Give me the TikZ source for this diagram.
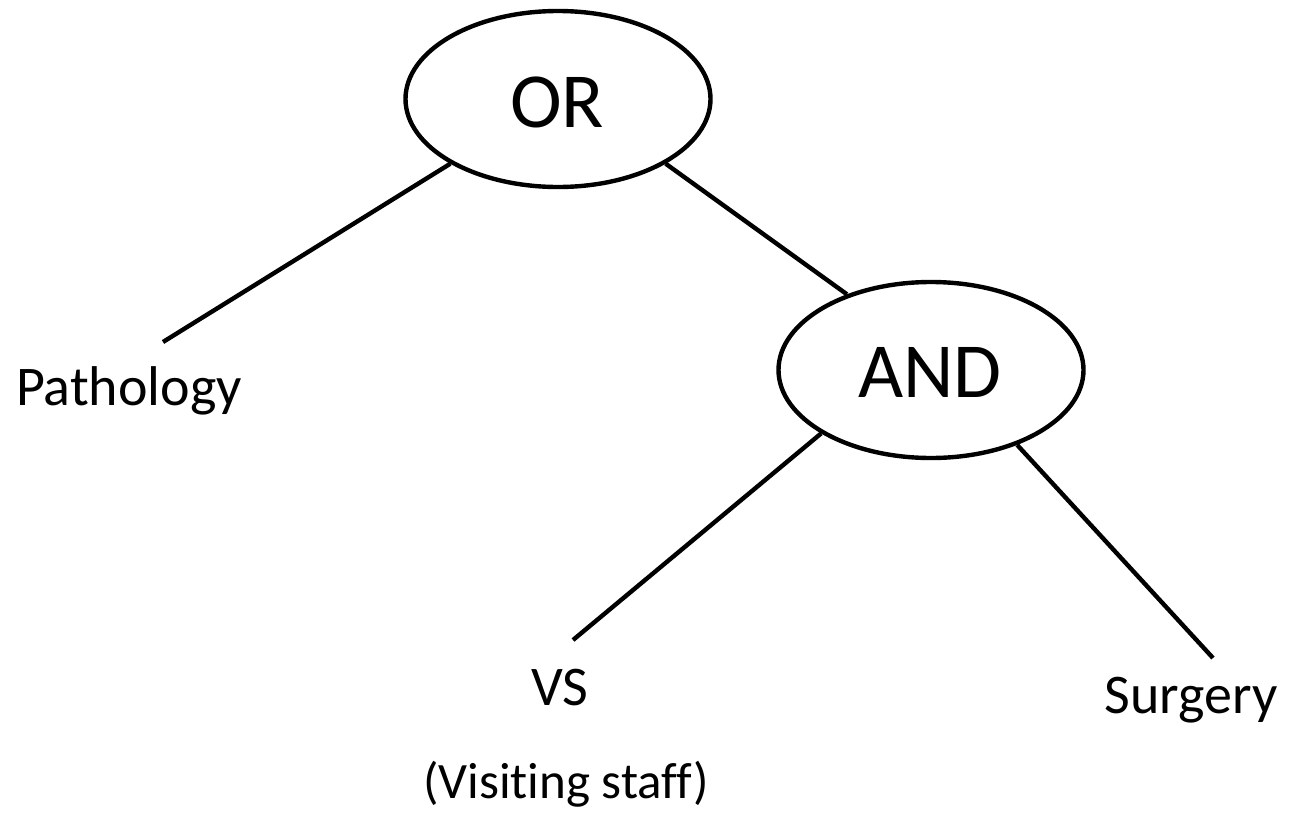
\documentclass[tikz,border=0pt]{standalone}
\usepackage{fontspec}
\setmainfont{Carlito}[Ligatures=NoCommon]
\usetikzlibrary{shapes.geometric}
\begin{document}
\begin{tikzpicture}[x=1pt,y=-1pt,
  gate/.style={draw=black,line width=4.4pt,ellipse,minimum width=305pt,minimum height=176pt,inner sep=0pt},
  gatelabel/.style={anchor=base,inner sep=0pt,font=\fontsize{78}{90}\selectfont},
  leaf/.style={anchor=base,inner sep=0pt,font=\fontsize{56}{64}\selectfont},
  edge/.style={draw=black,line width=4.4pt}]
\useasboundingbox (0,0) rectangle (1291,814);
% logic gates
\node[gate] (or)  at (558,99)  {};
\node[gate] (and) at (931,370) {};
\node[gatelabel] (ortext)  at (557,127) {OR};
\node[gatelabel] (andtext) at (930,397) {AND};
% leaves
\node[leaf] (path) at (129,405) {Pathology};
\node[leaf] (vs)   at (560,705) {VS};
\node[leaf] (surg) at (1191,713) {Surgery};
\node[leaf,font=\fontsize{51}{60}\selectfont] (vsnote) at (566,798) {(Visiting staff)};
% free ends of the branches
\coordinate (pathend) at (163,342);
\coordinate (vsend)   at (573,640);
\coordinate (surgend) at (1213,658);
% branches
\draw[edge] (or.211) -- (pathend);
\draw[edge] (or.329) -- (and.138);
\draw[edge] (and.210) -- (vsend);
\draw[edge] (and.319) -- (surgend);
\end{tikzpicture}
\end{document}
